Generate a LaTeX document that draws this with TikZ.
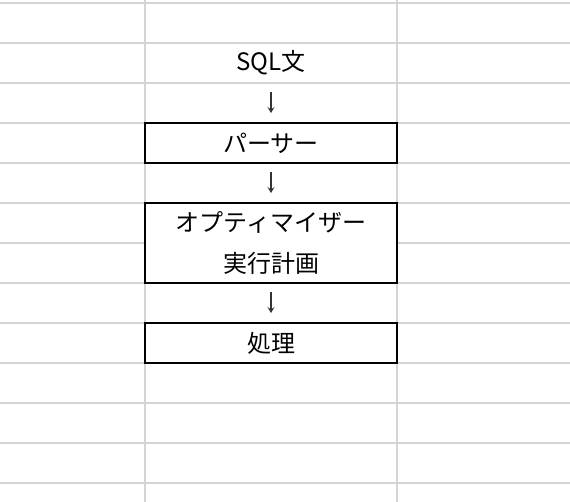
\documentclass[tikz,border=0pt]{standalone}
\usepackage{fontspec}
\setmainfont{Noto Sans CJK JP}
\usetikzlibrary{arrows.meta}
\begin{document}
\begin{tikzpicture}[x=1pt,y=-1pt,
  gridline/.style={draw=black!17,line width=2pt},
  cellbox/.style={draw=black,line width=2pt,fill=white,minimum width=252pt,inner sep=0pt,outer sep=0pt,anchor=north west},
  celltext/.style={font=\fontsize{24}{28}\selectfont,inner sep=0pt},
  flow/.style={line width=1.2pt,draw=black!80,-{Stealth[length=6pt,width=7pt,inset=2.5pt]}}]
\useasboundingbox (0,0) rectangle (570,502);
\fill[white] (0,0) rectangle (570,502);
% grid
\foreach \yy in {3,43,...,483} \draw[gridline] (0,\yy) -- (570,\yy);
\draw[gridline] (145,0) -- (145,502);
\draw[gridline] (397,0) -- (397,502);
% boxes
\node[cellbox,minimum height=40pt] (parser) at (145,123) {};
\node[cellbox,minimum height=80pt] (opt) at (145,203) {};
\node[cellbox,minimum height=40pt] (proc) at (145,323) {};
% texts
\node[celltext] (sql) at (271,63) {SQL文};
\node[celltext] (parsertxt) at (parser.center) {パーサー};
\node[celltext] (opttxt) at (271,222) {オプティマイザー};
\node[celltext] (plantxt) at (271,263) {実行計画};
\node[celltext] (proctxt) at (proc.center) {処理};
% connectors
\coordinate (sqlcell) at (271,83);
\draw[flow,shorten <=9pt,shorten >=10pt] (sqlcell) -- (parser.north);
\draw[flow,shorten <=9pt,shorten >=10pt] (parser.south) -- (opt.north);
\draw[flow,shorten <=9pt,shorten >=10pt] (opt.south) -- (proc.north);
\end{tikzpicture}
\end{document}
